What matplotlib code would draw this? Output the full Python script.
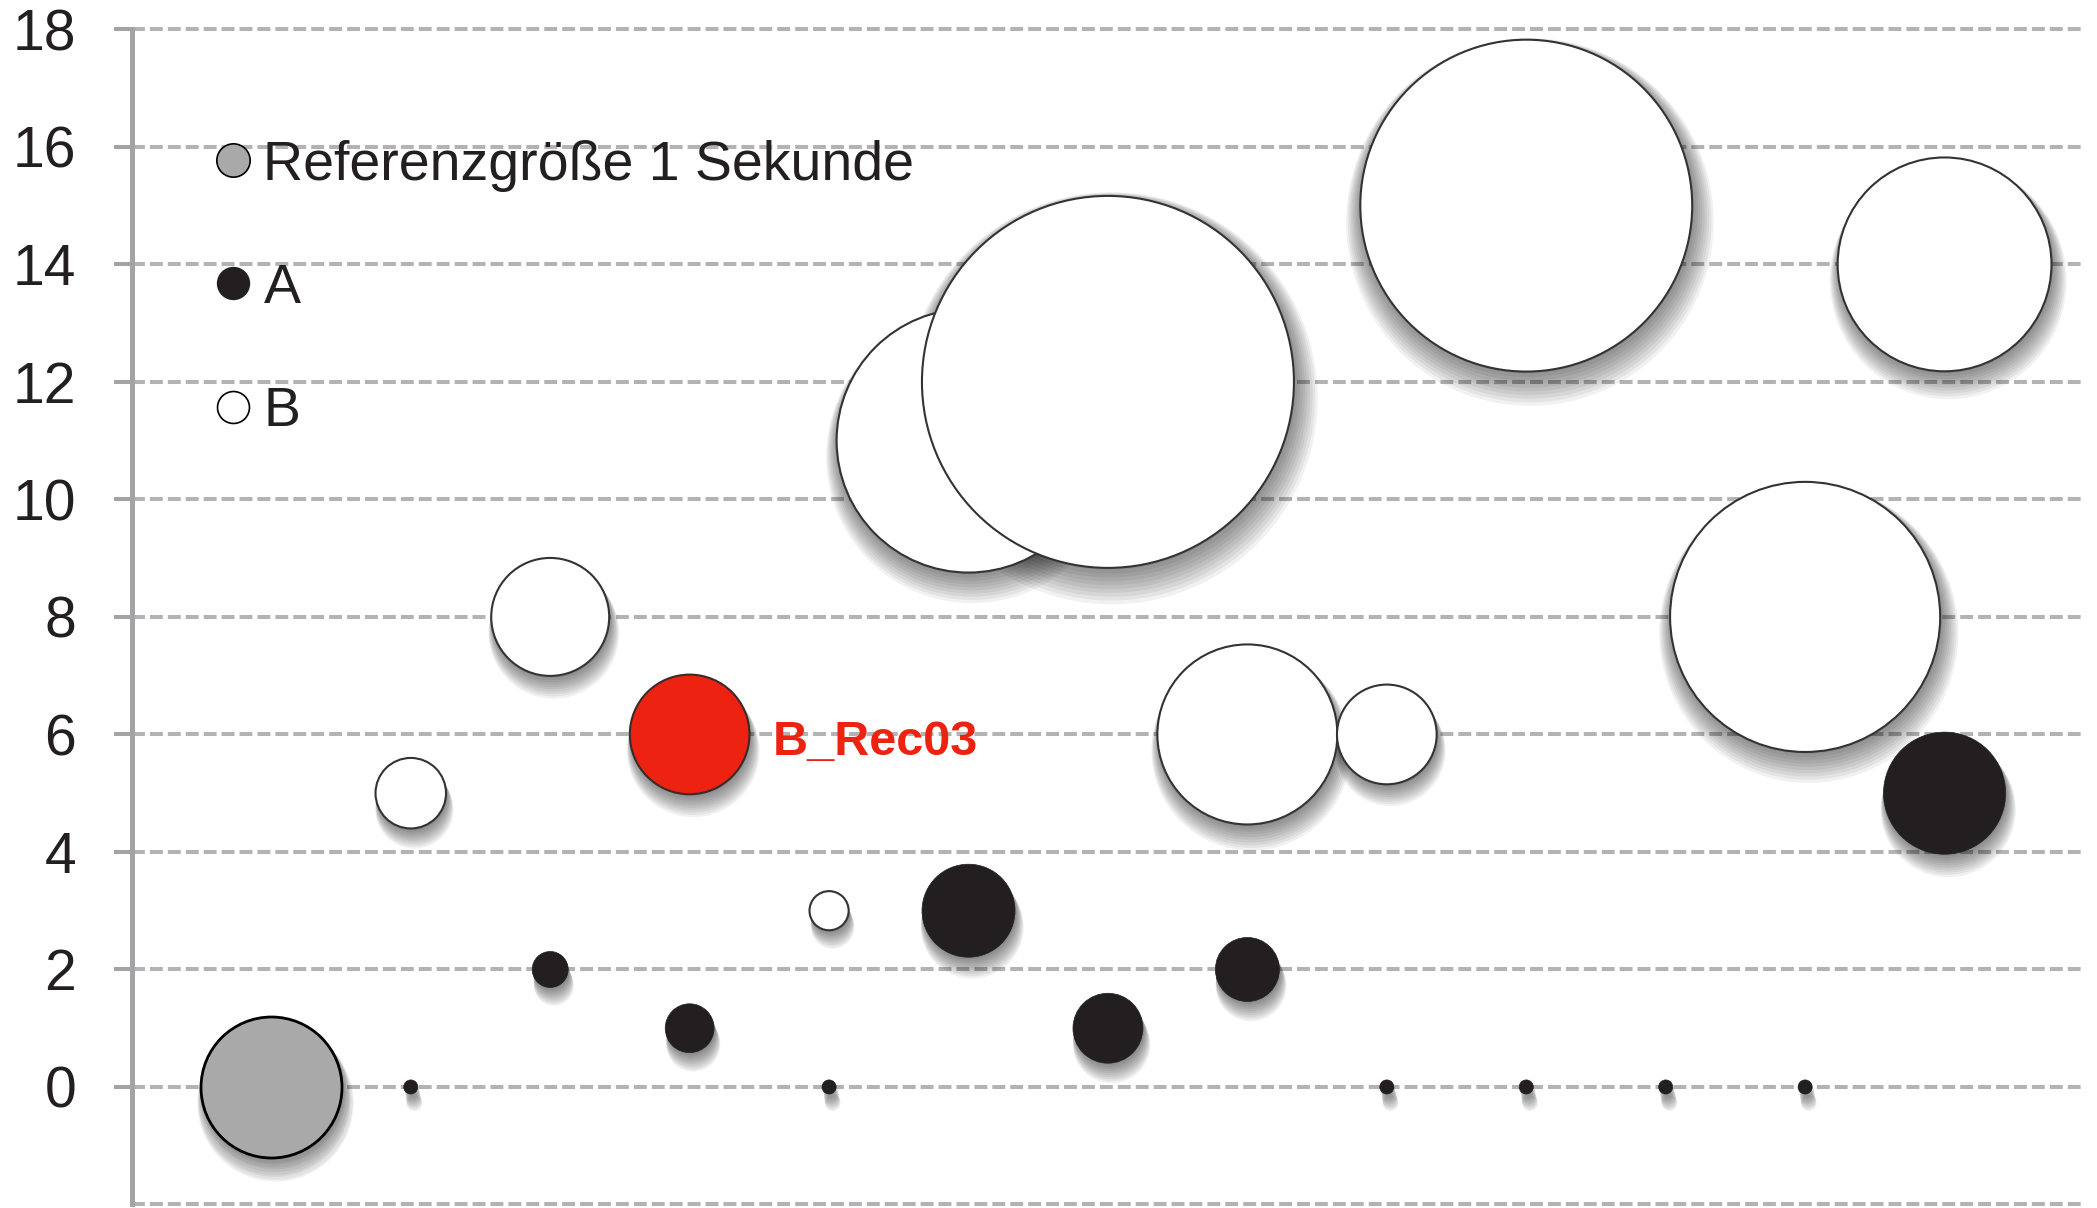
"""Bubble chart: durations of A and B per step, with a 1-second reference bubble."""

import numpy as np
import matplotlib

matplotlib.use("Agg")
import matplotlib.pyplot as plt
from matplotlib.lines import Line2D
from matplotlib.transforms import offset_copy

plt.rcParams["font.family"] = ["Liberation Sans Narrow", "Liberation Sans", "DejaVu Sans"]

# --- data -------------------------------------------------------------------
ref_x = [1]
ref_y = [0]
ref_sec = [1.0]

steps = [2, 3, 4, 5, 6, 7, 8, 9, 10, 11, 12, 13]
a_y = [0, 2, 1, 0, 3, 1, 2, 0, 0, 0, 0, 5]
a_sec = [0.01, 0.065, 0.12, 0.01, 0.435, 0.246, 0.206, 0.01, 0.01, 0.01, 0.01, 0.75]
b_y = [5, 8, 6, 3, 11, 12, 6, 6, 15, np.nan, 8, 14]
b_sec = [0.25, 0.70, 0.72, 0.077, 3.5, 6.96, 1.63, 0.50, 5.54, 0.0, 3.67, 2.30]

highlight_step = 4
highlight_label = "B_Rec03"

y_ticks = [0, 2, 4, 6, 8, 10, 12, 14, 16, 18]
legend_labels = ["Referenzgröße 1 Sekunde", "A", "B"]

# --- style ------------------------------------------------------------------
DPI = 100
REF_RADIUS_PX = 70.5
GRID = "#b3b3b6"
AXIS = "#a3a3a6"
BLACK = "#231f20"
GREY = "#a9a9a9"
RED = "#ee2211"
EDGE = "#333333"


def area(sec):
    """Marker area (pt^2) so that bubble area is proportional to seconds."""
    d_pt = 2 * REF_RADIUS_PX * 72 / DPI
    return d_pt ** 2 * np.asarray(sec, dtype=float)


def bubbles(ax, fig, x, y, sec, face, edge, lw, z):
    s = area(sec)
    # soft drop shadow: a few faint copies smeared downwards
    for k in range(10):
        tr = offset_copy(ax.transData, fig=fig, x=1 + 0.3 * k, y=-2 - 1.6 * k, units="dots")
        ax.scatter(x, y, s=s * (1 + 0.012 * k) ** 2, color="black",
                   alpha=0.055, linewidths=0, transform=tr, zorder=z)
    ax.scatter(x, y, s=s, c=face, edgecolors=edge, linewidths=lw, zorder=z + 0.5)


fig = plt.figure(figsize=(2097 / DPI, 1208 / DPI), dpi=DPI)
ax = fig.add_axes([0.0629, 0.0029, 0.9309, 0.9728])

ax.set_xlim(0, 14)
ax.set_ylim(-2, 18)
ax.set_yticks(y_ticks)
ax.set_xticks([])
for y in range(-2, 19, 2):
    ax.axhline(y, color=GRID, lw=2.9, dashes=(3.2, 1.25), zorder=0, clip_on=False)

for side in ("top", "right", "bottom"):
    ax.spines[side].set_visible(False)
ax.spines["left"].set_color(AXIS)
ax.spines["left"].set_linewidth(3.6)
ax.tick_params(axis="y", length=13, width=2.9, color=AXIS, pad=27,
               labelsize=41, labelcolor="#231f20")

b_face = ["white" if s != highlight_step else RED for s in steps]
b_edge = [EDGE if s != highlight_step else "#3a2a2a" for s in steps]
bubbles(ax, fig, steps, b_y, b_sec, b_face, b_edge, 1.5, 2)
bubbles(ax, fig, steps, a_y, a_sec, BLACK, BLACK, 0.5, 4)
bubbles(ax, fig, ref_x, ref_y, ref_sec, GREY, "black", 2.0, 4)

hi = steps.index(highlight_step)
ax.annotate(highlight_label, (steps[hi], b_y[hi]), xytext=(60, -6),
            textcoords="offset points", ha="left", va="center",
            fontsize=35, fontweight="bold", color=RED, zorder=6)

handles = [
    Line2D([], [], ls="", marker="o", markersize=24, markerfacecolor=GREY,
           markeredgecolor="black", markeredgewidth=1.2),
    Line2D([], [], ls="", marker="o", markersize=23, markerfacecolor=BLACK,
           markeredgecolor=BLACK),
    Line2D([], [], ls="", marker="o", markersize=23, markerfacecolor="white",
           markeredgecolor="black", markeredgewidth=1.2),
]
ax.legend(handles, legend_labels, loc="upper left", bbox_to_anchor=(0.0432, 0.906),
          frameon=False, fontsize=40, handlelength=0.6, handletextpad=0.25,
          labelspacing=1.28, borderpad=0, borderaxespad=0, labelcolor="#231f20")

fig.savefig("out.png", dpi=DPI)
